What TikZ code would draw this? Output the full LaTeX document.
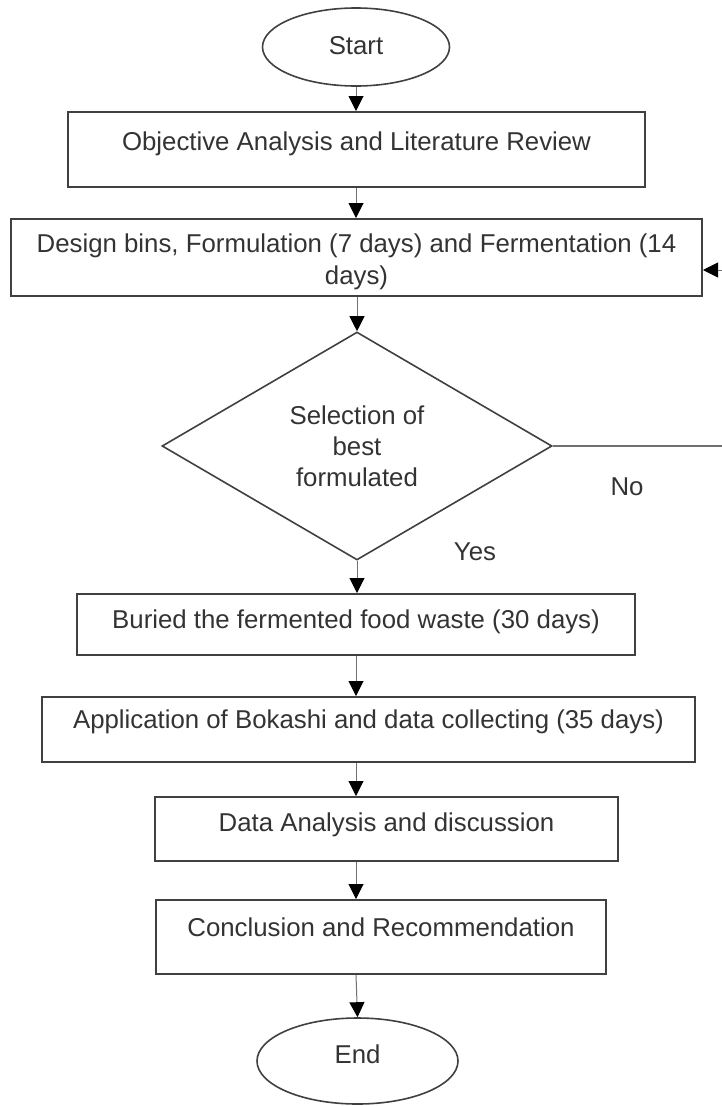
\documentclass[tikz,border=0pt]{standalone}
\usepackage{fontspec}
\setmainfont{Liberation Sans}
\usetikzlibrary{shapes.geometric,arrows.meta}
\definecolor{ink}{HTML}{333333}
\definecolor{edgec}{HTML}{404040}
\definecolor{linec}{HTML}{707070}
\begin{document}
\begin{tikzpicture}[x=1pt,y=-1pt,
  txt/.style={font=\fontsize{25.8}{32}\selectfont, text=ink, inner sep=0pt, text height=18pt, text depth=5pt},
  box/.style={draw=edgec, line width=2pt, rectangle, inner sep=0pt},
  term/.style={draw=edgec, line width=1.6pt, ellipse, inner sep=0pt},
  dec/.style={draw=edgec, line width=1.6pt, diamond, inner sep=0pt, align=center},
  flow/.style={draw=linec, line width=1pt, -{Triangle[width=15pt,length=15pt,color=black]}},
  plain/.style={draw=linec, line width=1.4pt}]
\useasboundingbox (0,0) rectangle (722,1106);

\node[term, minimum width=187pt, minimum height=78pt] (start) at (356,47) {};
\node[txt] (startT) at (356,48) {Start};

\node[box, minimum width=577pt, minimum height=75pt,
  label={[txt, yshift=6pt]center:Objective Analysis and Literature Review}] (b1) at (356.5,149.5) {};

\node[box, minimum width=691pt, minimum height=77pt,
  label={[txt, align=center, yshift=-20pt]center:Design bins, Formulation (7 days) and Fermentation (14\\days)}] (b2) at (356.5,257.5) {};

\node[dec, minimum width=390pt, minimum height=228pt, font=\fontsize{25.8}{31}\selectfont, text=ink] (d) at (357,446) {Selection of\\best\\formulated};

\node[box, minimum width=558pt, minimum height=61pt,
  label={[txt, yshift=3pt]center:Buried the fermented food waste (30 days)}] (b3) at (356,624.5) {};

\node[box, minimum width=653pt, minimum height=65pt,
  label={[txt, yshift=7.5pt]center:Application of Bokashi and data collecting (35 days)}] (b4) at (368.5,729.5) {};

\node[box, minimum width=463pt, minimum height=64pt,
  label={[txt, yshift=4.5pt]center:Data Analysis and discussion}] (b5) at (386.5,829) {};

\node[box, minimum width=450pt, minimum height=74pt,
  label={[txt, yshift=7.5pt]center:Conclusion and Recommendation}] (b6) at (381,937) {};

\node[term, minimum width=201pt, minimum height=86pt] (end) at (357.5,1061) {};
\node[txt] (endT) at (357.5,1057) {End};

\node[txt] (no) at (627,489) {No};
\node[txt] (yes) at (475,554) {Yes};

\coordinate (loopA) at (722,446);
\coordinate (loopB) at (722,270);

\draw[flow] (start.south) -- (start.south |- b1.north);
\draw[flow] (b1.south -| start.south) -- (b2.north -| start.south);
\draw[flow] (b2.south -| d.north) -- (d.north);
\draw[flow] (d.south) -- (d.south |- b3.north);
\draw[flow] (b3.south -| start.south) -- (b4.north -| start.south);
\draw[flow] (b4.south -| start.south) -- (b5.north -| start.south);
\draw[flow] (b5.south -| start.south) -- (b6.north -| start.south);
\draw[flow] (b6.south -| start.south) -- (end.north);
\draw[plain] (d.east) -- (loopA);
\draw[flow] (loopB) -- (loopB -| b2.east);
\end{tikzpicture}
\end{document}
